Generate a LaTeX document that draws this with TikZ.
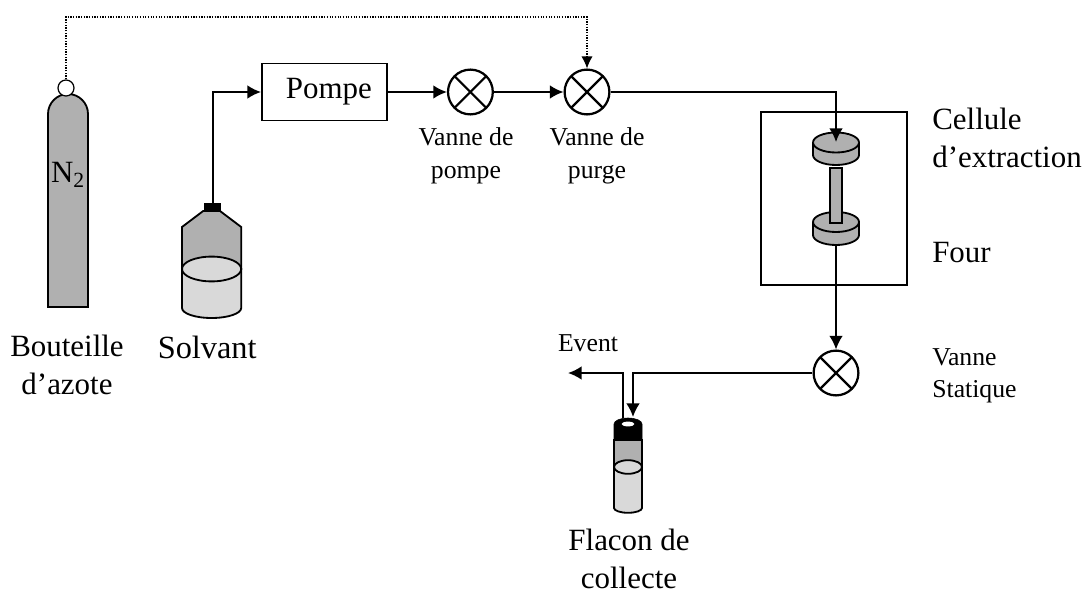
\documentclass[tikz,border=0pt]{standalone}
\usepackage{fontspec}
\setmainfont{Liberation Serif}
\usepackage{tikz}
\usetikzlibrary{arrows.meta}
\tikzset{
	fleche/.style={line width=1.3pt, -{Latex[length=3.4mm,width=3.4mm]}},
	tirets/.style={line width=.9pt, densely dotted, -{Latex[length=3mm,width=2.8mm]}},
	vanne/.style={circle, draw, line width=1.6pt, minimum size=1.12cm, inner sep=0, path picture={
		\draw[line width=1.6pt] (path picture bounding box.north west) -- (path picture bounding box.south east);
		\draw[line width=1.6pt] (path picture bounding box.north east) -- (path picture bounding box.south west);}},
	grand/.style={font=\fontsize{22}{27}\selectfont, inner sep=0, align=center},
	moyen/.style={font=\fontsize{18.3}{23.2}\selectfont, inner sep=0, align=center},
	gaz/.style={fill=gray!62, draw, line width=1.3pt},
	liquide/.style={fill=gray!30, draw, line width=1.3pt}
}
\begin{document}
\begin{tikzpicture}
	\useasboundingbox (0,0) rectangle (27.175,14.825);
	\draw[gaz] (1.2,7.15) -- (1.2,11.975) arc (180:0:.5) -- (2.2,7.15) -- cycle;
	\node[circle, draw, line width=.9pt, fill=white, minimum size=.4cm, inner sep=0] (robinet) at (1.65,12.625) {};
	\node[grand] (azote) at (1.7,10.45) {N\textsubscript{2}};
	\node[grand] (bouteille) at (1.675,5.7) {Bouteille\\d’azote};

	\draw[liquide] (4.55,8.1) -- (4.55,7.125) arc (180:360:.74 and .25) -- (6.03,8.1) -- cycle;
	\draw[gaz] (4.55,8.1) -- (4.55,9.15) -- (5.08,9.55) -- (5.5,9.55) -- (6.03,9.15) -- (6.03,8.1) -- cycle;
	\draw[liquide] (5.29,8.1) ellipse (.74 and .31);
	\node[fill=black, minimum width=.43cm, minimum height=.2cm, inner sep=0] (bouchon) at (5.32,9.65) {};
	\node[grand, font=\fontsize{23}{27}\selectfont] (solvant) at (5.18,6.15) {Solvant};

	\node[draw, line width=1.3pt, minimum width=3.125cm, minimum height=1.425cm, inner xsep=.375cm, text width=2.375cm, align=right, font=\fontsize{22}{27}\selectfont] (pompe) at (8.11,12.525) {Pompe};
	\node[vanne] (vpompe) at (11.76,12.525) {};
	\node[vanne] (vpurge) at (14.675,12.525) {};
	\node[vanne] (vstatique) at (20.9,5.5) {};
	\node[moyen] (lpompe) at (11.65,10.925) {Vanne de\\pompe};
	\node[moyen] (lpurge) at (14.925,10.925) {Vanne de\\purge};

	\node[draw, line width=1.3pt, minimum width=3.65cm, minimum height=4.325cm] (four) at (20.85,9.8625) {};
	\node[grand, anchor=west, align=left] (lcellule) at (23.3,11.375) {Cellule\\d’extraction};
	\node[grand, anchor=west] (lfour) at (23.3,8.52) {Four};
	\node[moyen, anchor=west, align=left] (lstatique) at (23.3,5.425) {Vanne\\Statique};

	\draw[gaz] (20.325,10.95) -- (20.325,11.2625) arc (180:0:.575 and .25) -- (21.475,10.95) arc (0:-180:.575 and .25) -- cycle;
	\draw[gaz] (20.325,11.2625) arc (180:360:.575 and .25);
	\draw[gaz] (20.325,8.95) -- (20.325,9.275) arc (180:0:.575 and .25) -- (21.475,8.95) arc (0:-180:.575 and .25) -- cycle;
	\draw[gaz] (20.325,9.275) arc (180:360:.575 and .25);
	\draw[gaz, line width=1.6pt] (20.75,10.62) rectangle (21.05,9.25);

	\draw[liquide] (15.35,3.15) -- (15.35,2.125) arc (180:360:.35 and .12) -- (16.05,3.15) -- cycle;
	\draw[gaz] (15.35,3.15) rectangle (16.05,3.825);
	\draw[fill=black] (15.35,3.825) -- (15.35,4.225) arc (180:0:.35 and .15) -- (16.05,3.825) -- cycle;
	\draw[fill=white, draw=none] (15.7,4.225) ellipse (.16 and .06);
	\draw[liquide] (15.7,3.15) ellipse (.35 and .17);
	\node[grand] (lflacon) at (15.725,.86) {Flacon de\\collecte};

	\coordinate (haut) at (1.65,14.4);
	\coordinate (cellule) at (20.9,11.275);
	\coordinate (sortie) at (20.9,8.7);
	\coordinate (entree) at (15.825,4.4);
	\coordinate (evacuation) at (15.575,4.375);
	\coordinate (event) at (14.2,5.5);
	\node[moyen] (levent) at (14.7,6.25) {Event};

	\draw[tirets] (robinet.north) -- (haut) -| (vpurge.north);
	\draw[fleche] (bouchon.north) |- (pompe.west);
	\draw[fleche] (pompe.east) -- (vpompe.west);
	\draw[fleche] (vpompe.east) -- (vpurge.west);
	\draw[fleche] (vpurge.east) -| (cellule);
	\draw[fleche] (sortie) -- (vstatique.north);
	\draw[fleche] (vstatique.west) -| (entree);
	\draw[fleche] (evacuation) |- (event);
\end{tikzpicture}
\end{document}
